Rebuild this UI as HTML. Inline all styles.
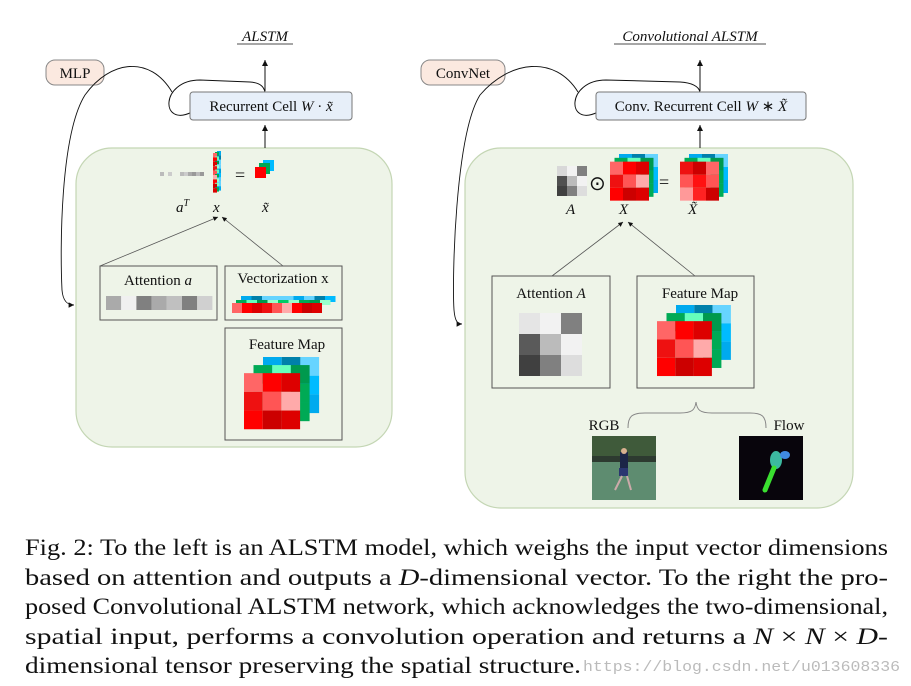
<!DOCTYPE html>
<html><head><meta charset="utf-8"><style>
html,body{margin:0;padding:0;background:#fff}
svg{display:block}
text{font-family:"Liberation Serif",serif;fill:#111}
</style></head><body>
<svg id="s" width="911" height="686" viewBox="0 0 911 686" xmlns="http://www.w3.org/2000/svg">
<defs>
<marker id="ar" markerWidth="8" markerHeight="8" refX="6" refY="3" orient="auto"><path d="M0,0 L6,3 L0,6 z" fill="#111"/></marker>
</defs>
<rect x="76" y="148" width="316" height="299" rx="36" fill="#eef4e8" stroke="#c4d6b4" stroke-width="1.2"/>
<rect x="465" y="148" width="388" height="360" rx="36" fill="#eef4e8" stroke="#c4d6b4" stroke-width="1.2"/>

<text x="265" y="41" font-size="15" font-style="italic" text-anchor="middle">ALSTM</text>
<line x1="237" y1="44" x2="293" y2="44" stroke="#111" stroke-width="0.8"/>
<text x="690" y="41" font-size="15" font-style="italic" text-anchor="middle">Convolutional ALSTM</text>
<line x1="614" y1="44" x2="766" y2="44" stroke="#111" stroke-width="0.8"/>

<line x1="265" y1="91" x2="265" y2="60" stroke="#111" marker-end="url(#ar)"/>
<line x1="700" y1="91" x2="700" y2="60" stroke="#111" marker-end="url(#ar)"/>
<line x1="265" y1="148" x2="265" y2="125" stroke="#111" marker-end="url(#ar)"/>
<line x1="700" y1="148" x2="700" y2="125" stroke="#111" marker-end="url(#ar)"/>

<path d="M192,112 C160,128 160,80 200,80 L250,82 C262,83 264,88 265,92" fill="none" stroke="#111"/>
<path d="M598,112 C566,128 566,80 606,80 L680,82 C695,83 699,88 700,92" fill="none" stroke="#111"/>

<rect x="190" y="92" width="162" height="28" rx="3" fill="#e7eff9" stroke="#777"/>
<text x="271" y="111" font-size="15" text-anchor="middle">Recurrent Cell <tspan font-style="italic">W</tspan> · <tspan font-style="italic">x̃</tspan></text>
<rect x="596" y="92" width="210" height="28" rx="3" fill="#e7eff9" stroke="#777"/>
<text x="701" y="111" font-size="15" text-anchor="middle">Conv. Recurrent Cell <tspan font-style="italic">W</tspan> ∗ <tspan font-style="italic">X̃</tspan></text>

<rect x="46" y="60" width="58" height="25" rx="9" fill="#fbe9e0" stroke="#888"/>
<text x="75" y="78" font-size="15" text-anchor="middle">MLP</text>
<rect x="421" y="60" width="84" height="25" rx="9" fill="#fbe9e0" stroke="#888"/>
<text x="463" y="78" font-size="15" text-anchor="middle">ConvNet</text>
<path d="M172,92 C150,55 110,60 85,95 C60,135 60,250 62,290 C63,302 68,305 74,305" fill="none" stroke="#111" stroke-width="0.9" marker-end="url(#ar)"/>
<path d="M578,92 C555,55 510,60 480,95 C455,135 452,280 454,310 C455,322 458,324 462,324" fill="none" stroke="#111" stroke-width="0.9" marker-end="url(#ar)"/>

<text x="235" y="181" font-size="18">=</text>
<text x="176" y="212" font-size="15" font-style="italic">a<tspan font-size="10" dy="-6">T</tspan></text>
<text x="213" y="212" font-size="15" font-style="italic">x</text>
<text x="262" y="212" font-size="15" font-style="italic">x̃</text>
<line x1="100" y1="266" x2="218" y2="217" stroke="#555" stroke-width="0.8" marker-end="url(#ar)"/>
<line x1="283" y1="266" x2="222" y2="217" stroke="#555" stroke-width="0.8" marker-end="url(#ar)"/>

<rect x="100" y="266" width="117" height="54" fill="none" stroke="#555"/>
<text x="158" y="285" font-size="15" text-anchor="middle">Attention <tspan font-style="italic">a</tspan></text>
<rect x="225" y="266" width="117" height="54" fill="none" stroke="#555"/>
<text x="283" y="283" font-size="15" text-anchor="middle">Vectorization x</text>
<rect x="225" y="328" width="117" height="112" fill="none" stroke="#555"/>
<text x="287" y="349" font-size="15" text-anchor="middle">Feature Map</text>

<text x="589" y="190" font-size="20">⊙</text>
<text x="659" y="188" font-size="18">=</text>
<text x="566" y="214" font-size="15" font-style="italic">A</text>
<text x="619" y="214" font-size="15" font-style="italic">X</text>
<text x="688" y="214" font-size="15" font-style="italic">X̃</text>
<line x1="552" y1="276" x2="623" y2="222" stroke="#555" stroke-width="0.8" marker-end="url(#ar)"/>
<line x1="695" y1="276" x2="628" y2="222" stroke="#555" stroke-width="0.8" marker-end="url(#ar)"/>
<rect x="492" y="276" width="118" height="112" fill="none" stroke="#555"/>
<text x="551" y="298" font-size="15" text-anchor="middle">Attention <tspan font-style="italic">A</tspan></text>
<rect x="637" y="276" width="117" height="112" fill="none" stroke="#555"/>
<text x="700" y="298" font-size="15" text-anchor="middle">Feature Map</text>

<path d="M628,428 C628,416 632,413 645,413 L680,413 C692,413 695,410 696,402 C697,410 700,413 712,413 L750,413 C762,413 766,416 766,428" fill="none" stroke="#888"/>
<text x="604" y="430" font-size="15" text-anchor="middle">RGB</text>
<text x="789" y="430" font-size="15" text-anchor="middle">Flow</text>
<rect x="592" y="436" width="64" height="64" fill="#5e8c70"/>
<rect x="592" y="436" width="64" height="20" fill="#3f5a3a"/>
<rect x="592" y="456" width="64" height="6" fill="#2d3a30"/>
<rect x="620" y="452" width="8" height="16" fill="#1c2547"/>
<circle cx="624" cy="451" r="3" fill="#d8b090"/>
<rect x="619" y="468" width="9" height="8" fill="#2a3670"/>
<line x1="622" y1="476" x2="615" y2="490" stroke="#caa" stroke-width="2"/>
<line x1="627" y1="476" x2="631" y2="490" stroke="#caa" stroke-width="2"/>
<rect x="739" y="436" width="64" height="64" fill="#08050c"/>
<ellipse cx="776" cy="460" rx="6" ry="9" fill="#3cb9a0"/>
<ellipse cx="785" cy="455" rx="5" ry="4" fill="#3f8ae0"/>
<line x1="774" y1="468" x2="765" y2="490" stroke="#3adf30" stroke-width="5" stroke-linecap="round"/>

<g font-size="23.5">
<text x="25" y="555" textLength="863" lengthAdjust="spacingAndGlyphs">Fig. 2: To the left is an ALSTM model, which weighs the input vector dimensions</text>
<text x="25" y="585" textLength="863" lengthAdjust="spacingAndGlyphs">based on attention and outputs a <tspan font-style="italic">D</tspan>-dimensional vector. To the right the pro-</text>
<text x="25" y="614" textLength="863" lengthAdjust="spacingAndGlyphs">posed Convolutional ALSTM network, which acknowledges the two-dimensional,</text>
<text x="25" y="644" textLength="863" lengthAdjust="spacingAndGlyphs">spatial input, performs a convolution operation and returns a <tspan font-style="italic">N</tspan> × <tspan font-style="italic">N</tspan> × <tspan font-style="italic">D</tspan>-</text>
<text x="25" y="673" textLength="556" lengthAdjust="spacingAndGlyphs">dimensional tensor preserving the spatial structure.</text>
</g>
<text x="583" y="671" font-size="15" style="fill:#bbb;font-family:'Liberation Mono',monospace" textLength="317" lengthAdjust="spacingAndGlyphs">https://blog.csdn.net/u013608336</text>
<g id="g"></g>
</svg>
<script>
var g=document.getElementById('g'),NS='http://www.w3.org/2000/svg';
function r(x,y,w,h,c){var e=document.createElementNS(NS,'rect');e.setAttribute('x',x);e.setAttribute('y',y);e.setAttribute('width',w);e.setAttribute('height',h);e.setAttribute('fill',c);g.appendChild(e);}
var B=['#00aaee','#0080aa','#66d4ff','#66d4ff','#00a0dd','#00bbff','#55ccff','#66d4ff','#00aaee'];
var G=['#00aa55','#66ffbb','#00994d','#99ffcc','#66ffbb','#00aa55','#99ffcc','#88ffc0','#00aa55'];
var R=['#ff6666','#ff0000','#dd0000','#ee1111','#ff5555','#ffaaaa','#ff0000','#cc0000','#dd0000'];
var R2=['#ee1111','#cc0000','#ff6666','#ff5555','#ff1111','#ff5555','#ff9999','#ff2222','#cc0000'];
function grid(x,y,s,c){for(var i=0;i<9;i++)r(x+(i%3)*s,y+Math.floor(i/3)*s,s,s,c[i]);}
function stack(x,y,s,d,rc){grid(x+2*d,y,s,B);grid(x+d,y+d*0.85,s,G);grid(x,y+d*1.7,s,rc);}
stack(244,357,18.7,9.5,R);
stack(657,305,18.3,9.5,R);
stack(610,154,13,4.5,R);
stack(680,154,13,4.5,R2);
grid(519,313,21,['#e5e5e5','#f2f2f2','#808080','#5a5a5a','#bbbbbb','#f2f2f2','#404040','#808080','#dddddd']);
grid(557,166,10,['#d8d8d8','#f2f2f2','#808080','#505050','#bbbbbb','#f2f2f2','#404040','#808080','#dddddd']);
var av=['#aaa','#f0f0f0','#808080','#aaa','#c0c0c0','#808080','#d0d0d0'];
for(var i=0;i<7;i++){r(106+i*15.2,296,15.2,14,av[i]);}
var vb=['#00aaee','#0080aa','#66d4ff','#66d4ff','#66d4ff','#00aaee','#66d4ff','#0080aa','#00bbff'];
for(i=0;i<9;i++)r(241+i*10.5,296,10.5,6,vb[i]);
var vg=['#00aa55','#66ffbb','#00994d','#99ffcc','#00cc66','#99ffcc','#00aa55','#00994d','#99ffcc'];
for(i=0;i<9;i++)r(236+i*10.5,300,10.5,5,vg[i]);
for(i=0;i<9;i++)r(232+i*10,303,10,10,R[i]);
var sq=['#bbb','#ccc','#aaa','#999','#bbb','#999'];
r(160,172,4,4,'#bbb');r(168,172,4,4,'#ccc');
for(i=0;i<6;i++)r(180+i*4,172,4,4,sq[i]);
for(i=0;i<9;i++){r(217,151+i*4.4,4,4.4,B[i]);r(215,152+i*4.4,4,4.4,G[i]);r(213,153+i*4.4,4,4.4,R[i]);}
r(263,160,11,11,'#00bbff');r(259,163,11,11,'#00aa55');r(255,167,11,11,'#ff0000');
</script>
</body></html>
